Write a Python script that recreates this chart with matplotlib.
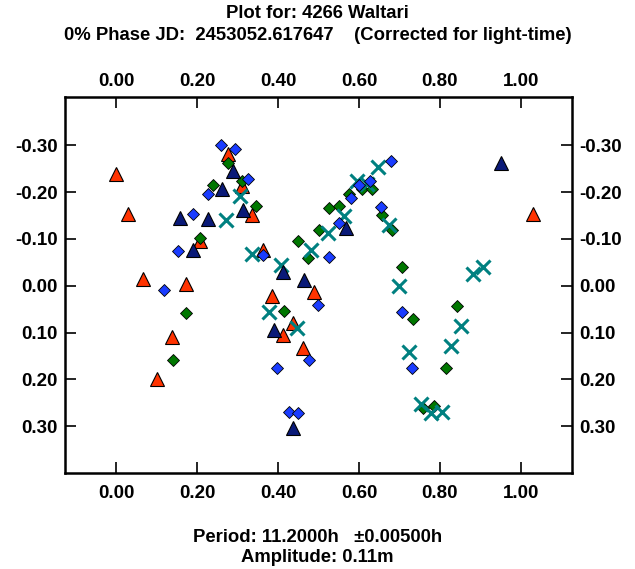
import matplotlib
matplotlib.use("Agg")
from matplotlib import pyplot as plt
from matplotlib.ticker import FixedLocator, FormatStrFormatter
import matplotlib.transforms as mtransforms

plt.rcParams['font.family'] = ['Liberation Sans', 'DejaVu Sans']
plt.rcParams['font.weight'] = 'bold'

# phase / magnitude per session
red_x = [0.000, 0.029, 0.067, 0.101, 0.139, 0.172, 0.208, 0.277, 0.311, 0.336, 0.362,
         0.386, 0.413, 0.438, 0.462, 0.489, 1.030]
red_y = [-0.239, -0.154, -0.014, 0.200, 0.109, -0.004, -0.096, -0.281, -0.213, -0.150, -0.077,
         0.021, 0.105, 0.079, 0.134, 0.013, -0.154]

navy_x = [0.157, 0.191, 0.227, 0.262, 0.288, 0.314, 0.389, 0.412, 0.438, 0.464, 0.568, 0.950]
navy_y = [-0.144, -0.077, -0.143, -0.207, -0.244, -0.161, 0.094, -0.030, 0.304, -0.013, -0.123, -0.262]

blue_x = [0.119, 0.154, 0.189, 0.228, 0.259, 0.295, 0.327, 0.364, 0.398, 0.426, 0.449,
          0.477, 0.498, 0.527, 0.551, 0.580, 0.601, 0.627, 0.655, 0.679, 0.705, 0.732]
blue_y = [0.009, -0.075, -0.154, -0.196, -0.300, -0.291, -0.227, -0.066, 0.175, 0.270, 0.271,
          0.159, 0.041, -0.061, -0.134, -0.187, -0.214, -0.224, -0.168, -0.266, 0.057, 0.176]

green_x = [0.140, 0.172, 0.207, 0.240, 0.276, 0.311, 0.346, 0.416, 0.449, 0.475, 0.501, 0.527,
           0.551, 0.576, 0.607, 0.633, 0.656, 0.682, 0.707, 0.733, 0.759, 0.785, 0.815, 0.841]
green_y = [0.158, 0.058, -0.102, -0.216, -0.262, -0.224, -0.171, 0.055, -0.096, -0.059, -0.118, -0.166,
           -0.170, -0.196, -0.206, -0.207, -0.151, -0.118, -0.041, 0.071, 0.261, 0.256, 0.175, 0.044]

teal_x = [0.272, 0.307, 0.337, 0.377, 0.407, 0.446, 0.481, 0.524, 0.563, 0.596, 0.620,
          0.647, 0.673, 0.700, 0.723, 0.752, 0.777, 0.804, 0.827, 0.851, 0.882, 0.907]
teal_y = [-0.141, -0.191, -0.067, 0.056, -0.044, 0.091, -0.077, -0.113, -0.149, -0.224, -0.218,
          -0.253, -0.129, 0.000, 0.141, 0.252, 0.271, 0.269, 0.129, 0.087, -0.025, -0.041]

x_ticks = [0.0, 0.2, 0.4, 0.6, 0.8, 1.0]
y_ticks = [-0.3, -0.2, -0.1, 0.0, 0.1, 0.2, 0.3]

fig = plt.figure(figsize=(6.35, 5.69), dpi=100)
ax = fig.add_axes([65 / 635, 1 - 473 / 569, 507 / 635, 376 / 569])

ax.plot(red_x, red_y, ls='none', marker='^', ms=9.5, mfc='#ff3300', mec='black', mew=0.8, zorder=3)
ax.plot(green_x, green_y, ls='none', marker='D', ms=6.6, mfc='#007700', mec='black', mew=0.6, zorder=4)
ax.plot(teal_x, teal_y, ls='none', marker='x', ms=10, mec='#008080', mew=2.2, zorder=5)
ax.plot(navy_x, navy_y, ls='none', marker='^', ms=9.5, mfc='#0a1a78', mec='black', mew=0.8, zorder=6)
ax.plot(blue_x, blue_y, ls='none', marker='D', ms=6.6, mfc='#1a3cff', mec='black', mew=0.6, zorder=7)

ax.set_xlim(-0.126, 1.126)
ax.set_ylim(0.40, -0.403)

ax.xaxis.set_major_locator(FixedLocator(x_ticks))
ax.yaxis.set_major_locator(FixedLocator(y_ticks))
ax.xaxis.set_major_formatter(FormatStrFormatter('%.2f'))
ax.yaxis.set_major_formatter(FormatStrFormatter('%.2f'))
ax.tick_params(direction='in', length=8, width=1.2, top=True, right=True,
               labeltop=True, labelright=True, labelsize=13.5)
ax.tick_params(axis='x', pad=9)
ax.tick_params(axis='y', pad=5)
for lab in ax.get_xticklabels() + ax.get_yticklabels():
    lab.set_fontweight('bold')
for s in ax.spines.values():
    s.set_linewidth(1.8)

# top labels sit a little closer to the frame
shift = mtransforms.ScaledTranslation(0, -5 / 100, fig.dpi_scale_trans)
for t in ax.xaxis.get_major_ticks():
    t.label2.set_transform(t.label2.get_transform() + shift)

fig.text(0.5, 1 - 13 / 569, "Plot for: 4266 Waltari", ha='center', va='center',
         fontsize=13.3, fontweight='bold')
fig.text(0.5, 1 - 35 / 569, "0% Phase JD:  2453052.617647    (Corrected for light-time)",
         ha='center', va='center', fontsize=13.3, fontweight='bold')
fig.text(0.5, 1 - 537 / 569, "Period: 11.2000h   \u00b10.00500h", ha='center', va='center',
         fontsize=13.3, fontweight='bold')
fig.text(0.5, 1 - 557 / 569, "Amplitude: 0.11m", ha='center', va='center',
         fontsize=13.3, fontweight='bold')

fig.savefig("out.png", dpi=100)
